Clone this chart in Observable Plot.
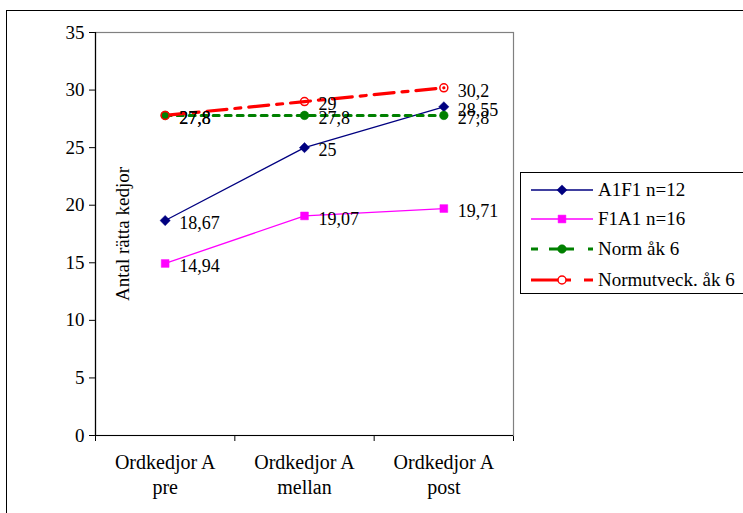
<!DOCTYPE html>
<html>
<head>
<meta charset="utf-8">
<script src="https://cdn.jsdelivr.net/npm/d3@7"></script>
<script src="https://cdn.jsdelivr.net/npm/@observablehq/plot@0.6"></script>
<style>
  html, body { margin: 0; padding: 0; background: #fff; width: 743px; height: 513px; overflow: hidden; }
  #wrap { position: relative; width: 743px; height: 513px; }
  #wrap, #wrap svg, #wrap svg text { font-family: "Liberation Serif", serif !important; }
  #outer { position: absolute; left: 6px; top: 10px; width: 800px; height: 600px; border: 1px solid #000; box-sizing: border-box; }
  #chart { position: absolute; left: 0; top: 0; }
  #legend { position: absolute; left: 520px; top: 172px; width: 240px; height: 122px; border: 1px solid #000; box-sizing: border-box; background: #fff; }
</style>
</head>
<body>
<div id="wrap">
  <div id="outer"></div>
  <div id="chart"></div>
  <div id="legend"></div>
</div>
<script>
// ---- data ----
const categories = ["Ordkedjor A\npre", "Ordkedjor A\nmellan", "Ordkedjor A\npost"];
const seriesNames = ["A1F1 n=12", "F1A1 n=16", "Norm åk 6", "Normutveck. åk 6"];
const a1f1 = [18.67, 25, 28.55];
const f1a1 = [14.94, 19.07, 19.71];
const norm = [27.8, 27.8, 27.8];
const normutveck = [27.8, 29, 30.2];
const yTicks = [0, 5, 10, 15, 20, 25, 30, 35];
const yLabel = "Antal rätta kedjor";

// ---- styles (not data) ----
const styles = [
  {color: "#000080", width: 1.3, dash: null, symbol: "diamond2", r: 4.6, fill: "#000080", legendDash: null},
  {color: "#FF00FF", width: 1.3, dash: null, symbol: "square", r: 4.4, fill: "#FF00FF", legendDash: null},
  {color: "#008000", width: 3, dash: "6,6", symbol: "circle", r: 4.3, fill: "#008000", legendDash: "7,11,25,14,5"},
  {color: "#FF0000", width: 3.2, dash: "20,8,6,8", symbol: "circle", r: 4, fill: "none", legendDash: "40,13,9"}
];

const seriesValues = [a1f1, f1a1, norm, normutveck];
const series = seriesNames.map((name, si) => ({
  name,
  style: styles[si],
  rows: seriesValues[si].map((v, i) => ({name, i, x: i + 0.5, v, label: String(v).replace(".", ",")}))
}));

const font = "Liberation Serif, serif";

const marks = [
  Plot.frame({stroke: "#808080", strokeWidth: 1.2}),
  Plot.ruleX([0], {stroke: "#000", strokeWidth: 1.2}),
  Plot.ruleY([0], {stroke: "#000", strokeWidth: 1.2}),
  Plot.text([yLabel], {frameAnchor: "left", textAnchor: "middle", rotate: -90, dx: 27, text: d => d, fontSize: 19}),
  Plot.text(categories, {x: (d, i) => i + 0.5, frameAnchor: "bottom", lineAnchor: "middle", text: d => d, dy: 38, lineHeight: 1.27, fontSize: 20})
];
for (const s of series) {
  marks.push(Plot.line(s.rows, {x: "x", y: "v", stroke: s.style.color, strokeWidth: s.style.width, strokeDasharray: s.style.dash || undefined}));
}
for (const s of series) {
  marks.push(Plot.dot(s.rows, {x: "x", y: "v", symbol: () => s.style.symbol, r: s.style.r, fill: s.style.fill, stroke: s.style.color, strokeWidth: s.style.fill === "none" ? 1.5 : 0.5}));
}
for (const s of series) {
  marks.push(Plot.text(s.rows, {x: "x", y: "v", text: "label", dx: 14, dy: 3, textAnchor: "start", fill: "#000", fontSize: 18}));
}

const chart = Plot.plot({
  width: 743,
  height: 513,
  marginLeft: 95,
  marginRight: 230,
  marginTop: 32,
  marginBottom: 78,
  style: {fontFamily: font, fontSize: "19px", background: "transparent", color: "#000", overflow: "visible"},
  x: {type: "linear", domain: [0, 3], ticks: [0, 1, 2, 3], tickFormat: () => "", tickSize: 6, label: null},
  y: {domain: [0, 35], ticks: yTicks, tickSize: 6, tickPadding: 5, label: null},
  marks
});
document.getElementById("chart").appendChild(chart);

// ---- legend ----
const leg = d3.select("#legend").append("svg").attr("width", 240).attr("height", 120)
  .style("font-family", font).style("font-size", "19px");
const rowY = [17, 46, 76, 107];
series.forEach((s, si) => {
  const g = leg.append("g").attr("transform", `translate(0,${rowY[si]})`);
  const st = s.style;
  const ln = g.append("line").attr("x1", 10).attr("x2", 72).attr("stroke", st.color).attr("stroke-width", st.width);
  if (st.legendDash) ln.attr("stroke-dasharray", st.legendDash);
  const sym = d3.symbol().type(st.symbol === "diamond2" ? d3.symbolDiamond2 : st.symbol === "square" ? d3.symbolSquare : d3.symbolCircle).size(Math.PI * st.r * st.r)();
  g.append("path").attr("d", sym).attr("transform", "translate(41,0)")
    .attr("fill", st.fill === "none" ? "#fff" : st.fill).attr("stroke", st.color).attr("stroke-width", st.fill === "none" ? 1.5 : 0.5);
  g.append("text").attr("x", 77).attr("dy", "0.32em").text(s.name);
});
</script>
</body>
</html>
